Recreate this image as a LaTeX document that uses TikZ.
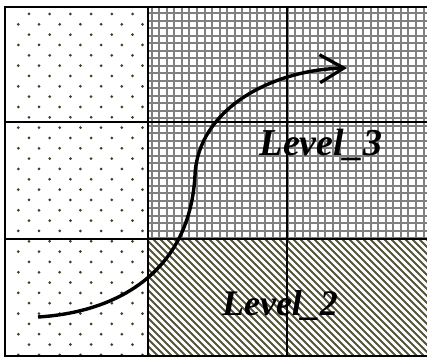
\documentclass[tikz,border=0pt]{standalone}
\usepackage{fontspec}
\setmainfont{Liberation Serif}
\usetikzlibrary{arrows.meta}
\definecolor{dotc}{HTML}{3E3E22}
\definecolor{hatchc}{HTML}{55553A}
\definecolor{gridc}{HTML}{808080}
\tikzset{
  border/.style={line width=2pt, black},
  thinborder/.style={line width=1.5pt, black},
  gridline/.style={line width=2pt, gridc},
  hatchline/.style={line width=1.9pt, hatchc},
  lvl/.style={font=\fontsize{38}{38}\selectfont\bfseries\itshape, inner sep=0pt, anchor=base},
  flow/.style={line width=3.4pt, black, -{Straight Barb[length=24pt,width=28pt,line width=3.2pt]}}
}
\begin{document}
\begin{tikzpicture}[x=1pt,y=-1pt]
\useasboundingbox (0,0) rectangle (427,358);
% dotted left column
\begin{scope}
\clip (5,7) rectangle (148,356);
\foreach \r in {0,...,33}{
  \pgfmathsetmacro{\yy}{14+10.33*\r}
  \pgfmathsetmacro{\xo}{mod(\r,2)==0 ? 29 : 18.3}
  \foreach \c in {0,...,6}{
    \fill[dotc] (\xo+20.7*\c,\yy) circle (1.5);
  }
}
\end{scope}
% grid region
\begin{scope}
\clip (148,7) rectangle (427,239);
\foreach \i in {0,...,37}{
  \draw[gridline] (151.7+7.55*\i,7) -- (151.7+7.55*\i,239);
}
\foreach \j in {0,...,31}{
  \draw[gridline] (148,13.3+7.5*\j) -- (427,13.3+7.5*\j);
}
\end{scope}
% hatched region
\begin{scope}
\clip (148,239) rectangle (427,356);
\foreach \k in {0,...,58}{
  \draw[hatchline] (20+7*\k,239) -- (140+7*\k,359);
}
\end{scope}
% frame lines
\draw[border] (427,7) -- (5,7) -- (5,356) -- (427,356);
\draw[border] (148,7) -- (148,356);
\draw[thinborder] (287,7) -- (287,356);
\draw[border] (5,122) -- (427,122);
\draw[border] (5,239) -- (427,239);
% labels
\node[lvl] (l3) at (321,155) {Level\_3};
\node[lvl, font=\fontsize{36}{36}\selectfont\bfseries\itshape] (l2) at (280,315) {Level\_2};
% arrow
\coordinate (s) at (38,317);
\coordinate (m) at (195,175);
\coordinate (e) at (347,68);
\draw[flow] (s) .. controls (120,312) and (190,270) .. (m) .. controls (198,110) and (270,70) .. (e);
\end{tikzpicture}
\end{document}
